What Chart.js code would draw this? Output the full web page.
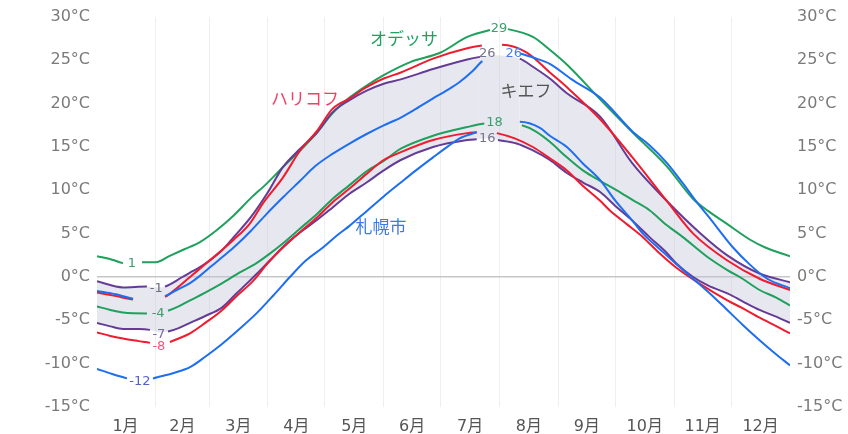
<!DOCTYPE html>
<html><head><meta charset="utf-8">
<script src="https://cdn.jsdelivr.net/npm/chart.js@4"></script>
<style>html,body{margin:0;padding:0;background:#fff;}canvas{display:block;}</style>
</head><body>
<canvas id="c" width="848" height="434"></canvas>
<script>
// ---- categories / ticks ----
const monthLabels = ['1月','2月','3月','4月','5月','6月','7月','8月','9月','10月','11月','12月'];
const monthCenters = [15, 45, 74.5, 105, 135.5, 166, 196.5, 227.5, 258, 288.5, 319, 349.5];
const monthStarts = [31, 59, 90, 120, 151, 181, 212, 243, 273, 304, 334];
const yTickValues = [-15, -10, -5, 0, 5, 10, 15, 20, 25, 30];

// ---- series values: [day of year, °C] ----
const odessaHigh = [[0,2.4],[8,2.0],[13.7,1.6],[18.4,1.5],[23.7,1.7],[31,1.7],[38,2.4],[46,3.2],[54,4.0],[63,5.4],[72,7.1],[81,9.1],[89.5,10.8],[98,12.7],[107,14.6],[116,16.7],[124,18.9],[133,20.7],[142,22.1],[151,23.3],[165,24.8],[181,25.9],[195,27.7],[207,28.5],[212,28.7],[216.4,28.6],[229.6,27.7],[238,26.3],[248,24.4],[265,20.5],[282,16.7],[300,12.8],[314,9.0],[322,7.6],[332,6.1],[344,4.3],[352,3.4],[365,2.4]];
const odessaLow = [[0,-3.4],[7,-3.8],[13.7,-4.1],[26.3,-4.2],[32.6,-4.2],[37.4,-3.9],[43,-3.4],[49,-2.7],[57,-1.8],[66,-0.7],[75,0.5],[84,1.6],[91,2.7],[98,3.9],[107,5.6],[116,7.3],[124,9.0],[133,10.6],[142,12.2],[151,13.4],[160,14.8],[177,16.3],[195,17.3],[204,17.7],[210,17.8],[223.8,17.5],[231,16.8],[238.5,15.6],[247,13.9],[255.9,12.3],[265,11.1],[273.8,10.0],[282,8.9],[291,7.7],[300,6.0],[308.6,4.6],[321,2.4],[332,0.8],[340,-0.2],[349,-1.5],[358,-2.4],[365,-3.3]];
const kharkivHigh = [[0,-1.8],[10,-2.2],[19,-2.6],[27,-2.7],[35.8,-2.3],[42,-1.3],[49,0.0],[56,1.3],[63,2.6],[72,4.3],[80.6,6.2],[87.4,8.5],[98,11.5],[107,14.6],[116,16.9],[124,19.4],[133,20.6],[142,21.9],[151,22.9],[160,23.6],[177,25.2],[195,26.4],[202.7,26.7],[208,26.8],[213.3,26.8],[226.4,25.9],[238.5,23.6],[247.5,21.9],[265,18.2],[282,13.8],[300,8.8],[314,5.0],[332,1.9],[349,-0.2],[365,-1.5]];
const kharkivLow = [[0,-6.4],[7,-6.8],[13.7,-7.1],[22,-7.4],[27.9,-7.6],[33,-7.9],[38.4,-7.5],[43,-7.1],[49,-6.5],[57,-5.3],[66,-3.8],[74,-2.1],[82,-0.5],[90,1.6],[98,3.4],[107,5.2],[116,6.9],[124,8.6],[133,10.2],[142,11.9],[151,13.5],[160,14.4],[177,15.8],[195,16.6],[200,16.7],[205,16.8],[210.6,16.6],[220,16.0],[229.6,15.0],[238.5,13.7],[247.5,12.3],[256,10.5],[265,8.8],[270,7.7],[279,6.1],[287.5,4.6],[296,2.8],[305,1.1],[317.6,-0.8],[332,-2.7],[340,-3.6],[349,-4.7],[358,-5.7],[365,-6.5]];
const kyivHigh = [[0,-0.5],[13.7,-1.2],[26.3,-1.1],[31.6,-1.2],[35.8,-1.1],[45,0.0],[49,0.5],[54,1.1],[60,2.0],[66,3.1],[72,4.6],[81,6.9],[89.5,9.6],[98,12.7],[107,14.8],[116,16.7],[124,19.0],[133,20.4],[142,21.5],[151,22.3],[160,22.8],[177,24.0],[195,25.1],[201.7,25.4],[208,25.6],[215,25.5],[222.7,25.2],[230,24.2],[238.5,22.9],[247.5,21.2],[265,18.5],[282,13.1],[300,8.8],[318,5.0],[332,2.5],[349,0.4],[365,-0.6]];
const kyivLow = [[0,-5.3],[7,-5.7],[13.7,-6.0],[22,-6.0],[27.9,-6.1],[33,-6.4],[37.4,-6.3],[43,-5.9],[49,-5.3],[57,-4.5],[66,-3.5],[73,-2.0],[80.6,-0.4],[84.3,0.4],[91,1.9],[100,3.9],[108,5.3],[116,6.6],[124,8.0],[133,9.6],[142,10.9],[151,12.3],[160,13.5],[177,15.0],[195,15.8],[200,15.9],[206,16.0],[211.2,15.8],[221,15.4],[229.6,14.6],[238.5,13.5],[247.5,12.0],[256,10.9],[265,9.8],[273,8.2],[282,6.5],[291,4.6],[300,2.8],[305,1.6],[314,0.0],[322,-1.0],[332,-1.9],[340,-2.8],[349,-3.8],[358,-4.6],[365,-5.3]];
const sapporoHigh = [[0,-1.6],[10,-2.0],[19,-2.5],[27,-2.6],[35.8,-2.2],[42,-1.5],[49,-0.7],[54,0.1],[60,1.2],[66,2.3],[73,3.6],[81,5.3],[89,7.2],[98,9.2],[107,11.1],[115,12.8],[124,14.2],[133,15.4],[142,16.5],[151,17.5],[160,18.4],[168,19.4],[177,20.6],[184,21.5],[191,22.5],[198,23.8],[203,24.9],[212,25.6],[218,25.9],[222.7,25.8],[230,25.3],[238.5,24.6],[250,22.8],[265,20.7],[282,16.8],[291,15.2],[300,13.2],[308.6,10.8],[316,8.6],[322,7.0],[335,3.4],[344,1.4],[353,-0.2],[365,-1.3]];
const sapporoLow = [[0,-10.6],[8,-11.2],[15.8,-11.7],[22.6,-12.0],[29.5,-11.7],[35,-11.4],[40,-11.1],[49,-10.4],[57,-9.2],[66,-7.7],[75,-6.0],[84,-4.2],[93,-2.1],[101.6,0.0],[110,1.9],[119,3.4],[127,4.9],[133,5.9],[142,7.6],[151,9.3],[160,10.9],[168,12.3],[177,13.8],[185,15.1],[191,16.0],[200,16.7],[212,17.5],[222.7,17.9],[233.3,17.2],[238.5,16.3],[247.5,15.0],[255.9,13.1],[264.9,11.2],[273,8.8],[282,6.5],[287.5,5.0],[296,3.3],[305,1.5],[314,-0.2],[322.8,-1.9],[331,-3.6],[340,-5.5],[349,-7.3],[357,-8.8],[365,-10.2]];

// line breaks around the value labels (day ranges)
const odessaHighGaps = [[13.7,23.7],[207,216.4]];
const odessaLowGaps = [[26.3,37.4],[204,223.8]];
const kharkivHighGaps = [[19,35.8],[202.7,213.3]];
const kharkivLowGaps = [[27.9,38.4],[200,210.6]];
const kyivHighGaps = [[26.3,35.8],[201.7,222.7]];
const kyivLowGaps = [[27.9,37.4],[200,211.2]];
const sapporoHighGaps = [[19,35.8],[203,222.7]];
const sapporoLowGaps = [[15.8,29.5],[200,222.7]];

// value labels (text) and series names
const valueLabels = [
  {text:'1', day:18.4, t:1.5, color:'#3a9e6c'},
  {text:'-1', day:31.2, t:-1.3, color:'#6e6e7e'},
  {text:'-4', day:32.2, t:-4.2, color:'#3a9e6c'},
  {text:'-7', day:32.6, t:-6.6, color:'#7a68a0'},
  {text:'-8', day:32.6, t:-8.0, color:'#f0587a'},
  {text:'-12', day:22.6, t:-12.1, color:'#5560c8'},
  {text:'29', day:211.7, t:28.7, color:'#3a9e6c'},
  {text:'26', day:205.6, t:25.8, color:'#77738c'},
  {text:'26', day:219.5, t:25.8, color:'#4a80ee'},
  {text:'18', day:209.4, t:17.8, color:'#3a9e6c'},
  {text:'16', day:205.6, t:16.0, color:'#77738c'}
];
const nameLabels = [
  {text:'オデッサ', day:161.7, t:27.5, color:'#22a060'},
  {text:'ハリコフ', day:109.5, t:20.6, color:'#f04068'},
  {text:'キエフ', day:225.9, t:21.5, color:'#555555'},
  {text:'札幌市', day:149.6, t:5.85, color:'#3a7ae8'}
];

const GREEN = '#1fa05c', RED = '#ee1c2e', PURPLE = '#643c96', BLUE = '#1e6ef0';

function gapSeg(gaps) {
  return ctx => {
    const a = ctx.p0.parsed.x, b = ctx.p1.parsed.x;
    for (const g of gaps) if (a >= g[0] - 1e-6 && b <= g[1] + 1e-6) return 'rgba(0,0,0,0)';
    return undefined;
  };
}
function ds(label, data, color, gaps, extra) {
  return Object.assign({
    label, data: data.map(p => ({x: p[0], y: p[1]})),
    borderColor: color, borderWidth: 2, pointRadius: 0, pointHoverRadius: 0,
    cubicInterpolationMode: 'monotone', fill: false,
    segment: {borderColor: gapSeg(gaps)}
  }, extra || {});
}

const textPlugin = {
  id: 'texts',
  afterDatasetsDraw(chart) {
    const {ctx} = chart, x = chart.scales.x, y = chart.scales.y;
    ctx.save();
    ctx.textAlign = 'center'; ctx.textBaseline = 'middle';
    ctx.font = '13px "DejaVu Sans", sans-serif';
    valueLabels.forEach(l => { ctx.fillStyle = l.color; ctx.fillText(l.text, x.getPixelForValue(l.day), y.getPixelForValue(l.t)); });
    ctx.font = '17px "Noto Sans CJK JP", sans-serif';
    nameLabels.forEach(l => { ctx.fillStyle = l.color; ctx.fillText(l.text, x.getPixelForValue(l.day), y.getPixelForValue(l.t)); });
    ctx.restore();
  }
};

const yTickCfg = {
  font: {family: '"DejaVu Sans", sans-serif', size: 16}, color: '#7a7a7a', padding: 7,
  callback: v => v + '°C'
};

new Chart(document.getElementById('c'), {
  type: 'line',
  data: {
    datasets: [
      ds('札幌市 高', sapporoHigh, BLUE, sapporoHighGaps),
      ds('札幌市 低', sapporoLow, BLUE, sapporoLowGaps),
      ds('ハリコフ 高', kharkivHigh, RED, kharkivHighGaps),
      ds('ハリコフ 低', kharkivLow, RED, kharkivLowGaps),
      ds('キエフ 高', kyivHigh, PURPLE, kyivHighGaps, {fill: '+1', backgroundColor: 'rgba(195,195,218,0.4)'}),
      ds('キエフ 低', kyivLow, PURPLE, kyivLowGaps),
      ds('オデッサ 高', odessaHigh, GREEN, odessaHighGaps),
      ds('オデッサ 低', odessaLow, GREEN, odessaLowGaps)
    ]
  },
  options: {
    responsive: false, devicePixelRatio: 1, animation: false,
    layout: {padding: {top: 17, left: 0, right: 0, bottom: 0}},
    plugins: {legend: {display: false}, tooltip: {enabled: false}, filler: {drawTime: 'beforeDatasetsDraw'}},
    scales: {
      x: {
        type: 'linear', min: 0, max: 365, position: 'bottom',
        grid: {display: false}, border: {display: false},
        afterBuildTicks: s => { s.ticks = monthCenters.map(v => ({value: v})); },
        ticks: {autoSkip: false, maxRotation: 0, padding: 2, color: '#555',
          font: {family: '"DejaVu Sans", "Noto Sans CJK JP", sans-serif', size: 16},
          callback: (v, i) => monthLabels[i]},
        afterFit: s => { s.height = 27; }
      },
      xg: {
        type: 'linear', min: 0, max: 365, position: 'top',
        afterBuildTicks: s => { s.ticks = monthStarts.map(v => ({value: v})); },
        ticks: {display: false}, border: {display: false},
        grid: {color: '#efefef', lineWidth: 1, drawTicks: false},
        afterFit: s => { s.height = 0; }
      },
      y: {
        min: -15, max: 30, position: 'left',
        afterBuildTicks: s => { s.ticks = yTickValues.map(v => ({value: v})); },
        ticks: yTickCfg, border: {display: false},
        grid: {drawTicks: false, lineWidth: 1.5, color: c => c.tick && c.tick.value === 0 ? '#c6c6c6' : 'rgba(0,0,0,0)'},
        afterFit: s => { s.width = 97; }
      },
      y2: {
        min: -15, max: 30, position: 'right',
        afterBuildTicks: s => { s.ticks = yTickValues.map(v => ({value: v})); },
        ticks: yTickCfg, border: {display: false},
        grid: {display: false, drawTicks: false},
        afterFit: s => { s.width = 58; }
      }
    }
  },
  plugins: [textPlugin]
});
</script>
</body></html>
